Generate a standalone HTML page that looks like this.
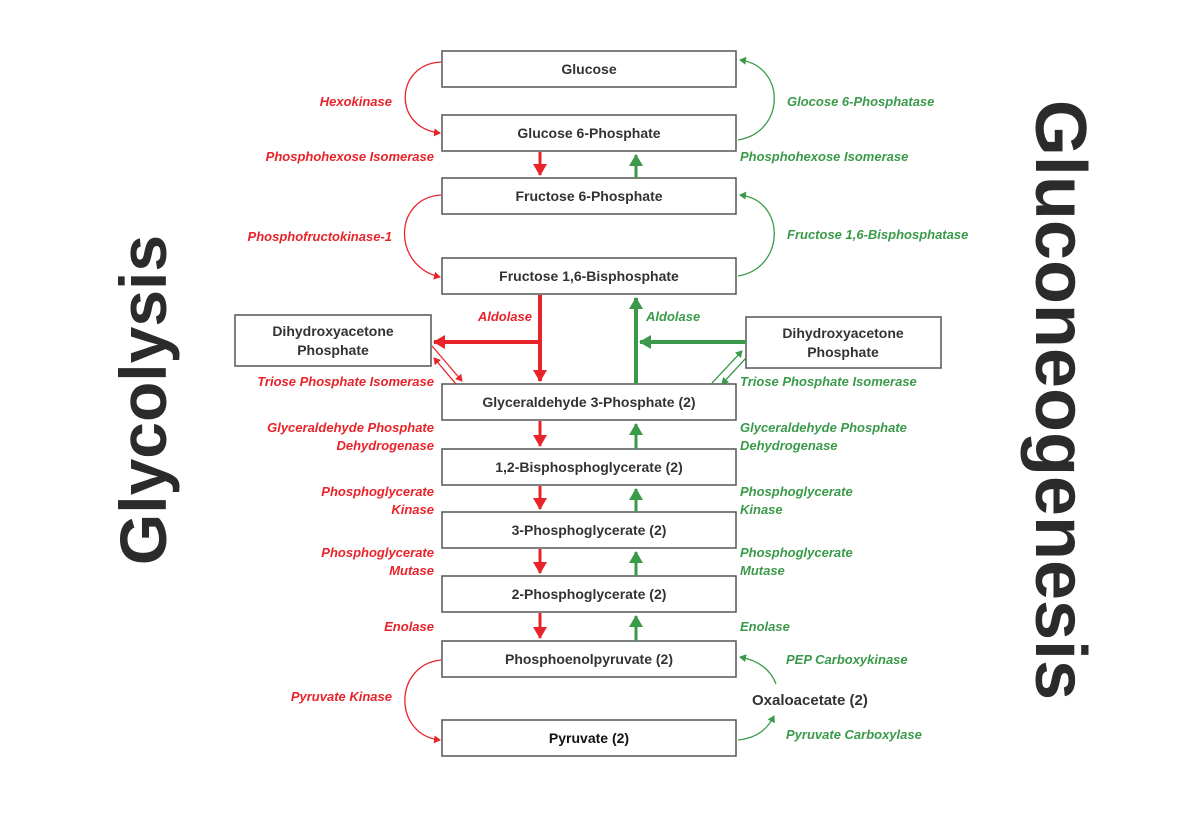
<!DOCTYPE html>
<html><head><meta charset="utf-8"><style>
html,body{margin:0;padding:0;background:#fff;}
svg{display:block;}
.b{fill:#fff;stroke:#555;stroke-width:1.5;}
.t{font-family:"Liberation Sans",sans-serif;font-weight:bold;font-size:14px;fill:#333;text-anchor:middle;}
.r{font-family:"Liberation Sans",sans-serif;font-weight:bold;font-style:italic;font-size:13px;fill:#e8242a;}
.g{font-family:"Liberation Sans",sans-serif;font-weight:bold;font-style:italic;font-size:13px;fill:#3a9a4a;}
.big{font-family:"Liberation Sans",sans-serif;font-weight:bold;fill:#2b2b2b;text-anchor:middle;}
</style></head><body>
<svg width="1200" height="831" viewBox="0 0 1200 831" xmlns="http://www.w3.org/2000/svg">
<defs>
<marker id="ar" markerWidth="8" markerHeight="8" refX="6" refY="4" orient="auto" markerUnits="userSpaceOnUse"><path d="M0,0 L7,4 L0,8 z" fill="#e8242a"/></marker>
<marker id="ag" markerWidth="8" markerHeight="8" refX="6" refY="4" orient="auto" markerUnits="userSpaceOnUse"><path d="M0,0 L7,4 L0,8 z" fill="#3a9a4a"/></marker>
<marker id="Ar" markerWidth="14" markerHeight="14" refX="11" refY="7" orient="auto" markerUnits="userSpaceOnUse"><path d="M0,0 L12,7 L0,14 z" fill="#e8242a"/></marker>
<marker id="Ag" markerWidth="14" markerHeight="14" refX="11" refY="7" orient="auto" markerUnits="userSpaceOnUse"><path d="M0,0 L12,7 L0,14 z" fill="#3a9a4a"/></marker>
</defs>

<text class="big" font-size="66" transform="translate(166,400) rotate(-90)">Glycolysis</text>
<text class="big" font-size="72" transform="translate(1036,400) rotate(90)">Gluconeogenesis</text>

<rect class="b" x="442" y="51" width="294" height="36"/><text class="t" x="589" y="74">Glucose</text>
<rect class="b" x="442" y="115" width="294" height="36"/><text class="t" x="589" y="138">Glucose 6-Phosphate</text>
<rect class="b" x="442" y="178" width="294" height="36"/><text class="t" x="589" y="201">Fructose 6-Phosphate</text>
<rect class="b" x="442" y="258" width="294" height="36"/><text class="t" x="589" y="281">Fructose 1,6-Bisphosphate</text>
<rect class="b" x="442" y="384" width="294" height="36"/><text class="t" x="589" y="407">Glyceraldehyde 3-Phosphate (2)</text>
<rect class="b" x="442" y="449" width="294" height="36"/><text class="t" x="589" y="472">1,2-Bisphosphoglycerate (2)</text>
<rect class="b" x="442" y="512" width="294" height="36"/><text class="t" x="589" y="535">3-Phosphoglycerate (2)</text>
<rect class="b" x="442" y="576" width="294" height="36"/><text class="t" x="589" y="599">2-Phosphoglycerate (2)</text>
<rect class="b" x="442" y="641" width="294" height="36"/><text class="t" x="589" y="664">Phosphoenolpyruvate (2)</text>
<rect class="b" x="442" y="720" width="294" height="36"/><text class="t" x="589" y="743" style="fill:#111">Pyruvate (2)</text>
<rect class="b" x="235" y="315" width="196" height="51"/><text class="t" x="333" y="336">Dihydroxyacetone</text><text class="t" x="333" y="355">Phosphate</text>
<rect class="b" x="746" y="317" width="195" height="51"/><text class="t" x="843" y="338">Dihydroxyacetone</text><text class="t" x="843" y="357">Phosphate</text>
<text class="t" x="752" y="705" style="font-size:15px;text-anchor:start">Oxaloacetate (2)</text>

<g fill="none" stroke-width="1.3">
<path d="M441,62 C395,64 392,128 440,133" stroke="#e8242a" marker-end="url(#ar)"/>
<path d="M441,195 C393,198 392,266 440,277" stroke="#e8242a" marker-end="url(#ar)"/>
<path d="M441,660 C393,665 393,735 440,740" stroke="#e8242a" marker-end="url(#ar)"/>
<path d="M738,140 C786,132 786,66 740,60" stroke="#3a9a4a" marker-end="url(#ag)"/>
<path d="M738,276 C786,268 786,200 740,195" stroke="#3a9a4a" marker-end="url(#ag)"/>
<path d="M738,740 C758,738 768,728 774,716" stroke="#3a9a4a" marker-end="url(#ag)"/>
<path d="M776,684 C770,668 756,660 740,657" stroke="#3a9a4a" marker-end="url(#ag)"/>
<path d="M432,346 L462,381" stroke="#e8242a" marker-end="url(#ar)"/>
<path d="M456,384 L434,358" stroke="#e8242a" marker-end="url(#ar)"/>
<path d="M712,383 L742,351" stroke="#3a9a4a" marker-end="url(#ag)"/>
<path d="M746,358 L722,384" stroke="#3a9a4a" marker-end="url(#ag)"/>
</g>

<g stroke-width="3" fill="none">
<path d="M540,152 L540,175" stroke="#e8242a" marker-end="url(#Ar)"/>
<path d="M636,178 L636,155" stroke="#3a9a4a" marker-end="url(#Ag)"/>
<path d="M540,421 L540,446" stroke="#e8242a" marker-end="url(#Ar)"/>
<path d="M636,449 L636,424" stroke="#3a9a4a" marker-end="url(#Ag)"/>
<path d="M540,486 L540,509" stroke="#e8242a" marker-end="url(#Ar)"/>
<path d="M636,512 L636,489" stroke="#3a9a4a" marker-end="url(#Ag)"/>
<path d="M540,549 L540,573" stroke="#e8242a" marker-end="url(#Ar)"/>
<path d="M636,576 L636,552" stroke="#3a9a4a" marker-end="url(#Ag)"/>
<path d="M540,613 L540,638" stroke="#e8242a" marker-end="url(#Ar)"/>
<path d="M636,641 L636,616" stroke="#3a9a4a" marker-end="url(#Ag)"/>
</g>
<g stroke-width="4" fill="none">
<path d="M540,295 L540,381" stroke="#e8242a" marker-end="url(#Ar)"/>
<path d="M540,342 L434,342" stroke="#e8242a" marker-end="url(#Ar)"/>
<path d="M636,384 L636,298" stroke="#3a9a4a" marker-end="url(#Ag)"/>
<path d="M746,342 L640,342" stroke="#3a9a4a" marker-end="url(#Ag)"/>
</g>

<text x="392" y="106" class="r" text-anchor="end">Hexokinase</text>
<text x="434" y="161" class="r" text-anchor="end">Phosphohexose Isomerase</text>
<text x="392" y="241" class="r" text-anchor="end">Phosphofructokinase-1</text>
<text x="532" y="321" class="r" text-anchor="end">Aldolase</text>
<text x="434" y="386" class="r" text-anchor="end">Triose Phosphate Isomerase</text>
<text x="434" y="432" class="r" text-anchor="end">Glyceraldehyde Phosphate</text>
<text x="434" y="450" class="r" text-anchor="end">Dehydrogenase</text>
<text x="434" y="496" class="r" text-anchor="end">Phosphoglycerate</text>
<text x="434" y="514" class="r" text-anchor="end">Kinase</text>
<text x="434" y="557" class="r" text-anchor="end">Phosphoglycerate</text>
<text x="434" y="575" class="r" text-anchor="end">Mutase</text>
<text x="434" y="631" class="r" text-anchor="end">Enolase</text>
<text x="392" y="701" class="r" text-anchor="end">Pyruvate Kinase</text>

<text x="787" y="106" class="g">Glocose 6-Phosphatase</text>
<text x="740" y="161" class="g">Phosphohexose Isomerase</text>
<text x="787" y="239" class="g">Fructose 1,6-Bisphosphatase</text>
<text x="646" y="321" class="g">Aldolase</text>
<text x="740" y="386" class="g">Triose Phosphate Isomerase</text>
<text x="740" y="432" class="g">Glyceraldehyde Phosphate</text>
<text x="740" y="450" class="g">Dehydrogenase</text>
<text x="740" y="496" class="g">Phosphoglycerate</text>
<text x="740" y="514" class="g">Kinase</text>
<text x="740" y="557" class="g">Phosphoglycerate</text>
<text x="740" y="575" class="g">Mutase</text>
<text x="740" y="631" class="g">Enolase</text>
<text x="786" y="664" class="g">PEP Carboxykinase</text>
<text x="786" y="739" class="g">Pyruvate Carboxylase</text>
</svg>
</body></html>
